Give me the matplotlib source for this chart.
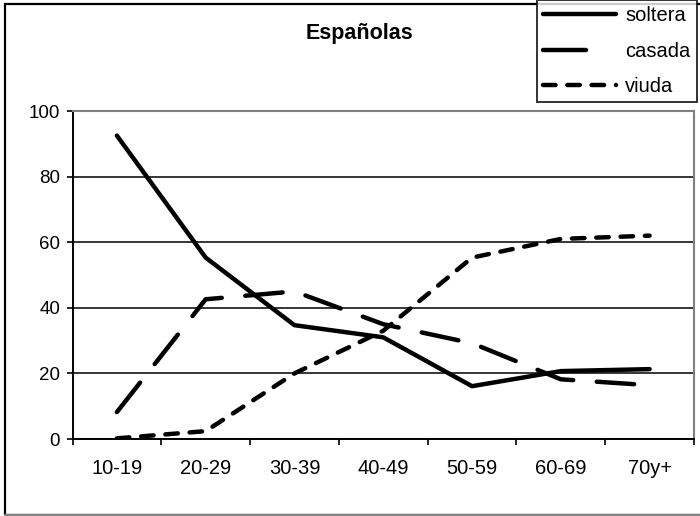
import matplotlib
matplotlib.use("Agg")
import matplotlib.pyplot as plt
from matplotlib.patches import Rectangle
from matplotlib.lines import Line2D

plt.rcParams["font.family"] = ["Liberation Sans", "DejaVu Sans"]
plt.rcParams["lines.scale_dashes"] = False

# datos
grupos = ["10-19", "20-29", "30-39", "40-49", "50-59", "60-69", "70y+"]
soltera = [92.5, 55.3, 34.7, 31.0, 16.1, 20.7, 21.3]
casada = [8.2, 42.6, 45.0, 35.0, 29.2, 18.2, 16.4]
viuda = [0.2, 2.4, 20.0, 33.0, 55.3, 61.0, 62.0]
yticks = [0, 20, 40, 60, 80, 100]

fig = plt.figure(figsize=(7, 5.16), dpi=100)
ax = fig.add_axes([72.5 / 700, 1 - 439 / 516, (694 - 72.5) / 700, (439 - 111) / 516])

lw = 3.2
x = range(len(grupos))
ax.plot(x, soltera, color="black", lw=lw, solid_capstyle="round", solid_joinstyle="round")
ax.plot(x, casada, color="black", lw=lw, dashes=(27, 17),
        dash_capstyle="round", dash_joinstyle="round")
ax.plot(x, viuda, color="black", lw=lw, dashes=(9, 8.5),
        dash_capstyle="round", dash_joinstyle="round")

ax.set_xlim(-0.5, len(grupos) - 0.5)
ax.set_ylim(0, 100)
ax.set_yticks(yticks)
ax.set_xticks([i - 0.5 for i in range(len(grupos) + 1)])
ax.set_xticklabels([""] * (len(grupos) + 1))
ax.set_xticks(list(x), minor=True)
ax.set_xticklabels(grupos, minor=True)
ax.tick_params(axis="x", which="minor", length=0, pad=14.5, labelsize=14.5)
ax.tick_params(axis="x", which="major", length=4, direction="out", width=1.2)
ax.tick_params(axis="y", length=4, direction="out", labelsize=13.5, pad=5, width=1.2)
ax.grid(axis="y", color="black", lw=1.1)
ax.set_axisbelow(True)
for s in ["top", "right"]:
    ax.spines[s].set_color("#808080")
    ax.spines[s].set_linewidth(1.5)
ax.spines["left"].set_linewidth(1.4)
ax.spines["bottom"].set_linewidth(1.4)

fig.text(0.514, 1 - 39 / 516, "Españolas", ha="center", va="baseline",
         fontsize=15.5, fontweight="bold")

# marco exterior
fig.patches.append(Rectangle((5 / 700, 1 / 516), 1.0, 1 - 5 / 516, transform=fig.transFigure,
                             fill=False, ec="black", lw=1.6, zorder=0))
fig.add_artist(Line2D([5 / 700, 1], [1 / 516, 1 / 516], transform=fig.transFigure,
                      color="#808080", lw=1.6))

# leyenda
handles = [
    Line2D([], [], color="black", lw=lw, solid_capstyle="round"),
    Line2D([], [], color="black", lw=lw, dashes=(31, 40), dash_capstyle="round"),
    Line2D([], [], color="black", lw=lw, dashes=(9, 8.5), dash_capstyle="round"),
]
leg = fig.legend(handles, ["soltera", "casada", "viuda"], loc="upper left",
                 bbox_to_anchor=(537 / 700, 1.0), frameon=True,
                 fancybox=False, edgecolor="black", fontsize=14.5,
                 handlelength=3.6, handletextpad=0.45, labelspacing=0.8,
                 borderpad=0.32, borderaxespad=0)
leg.get_frame().set_linewidth(1.4)

fig.savefig("out.png", dpi=100)
